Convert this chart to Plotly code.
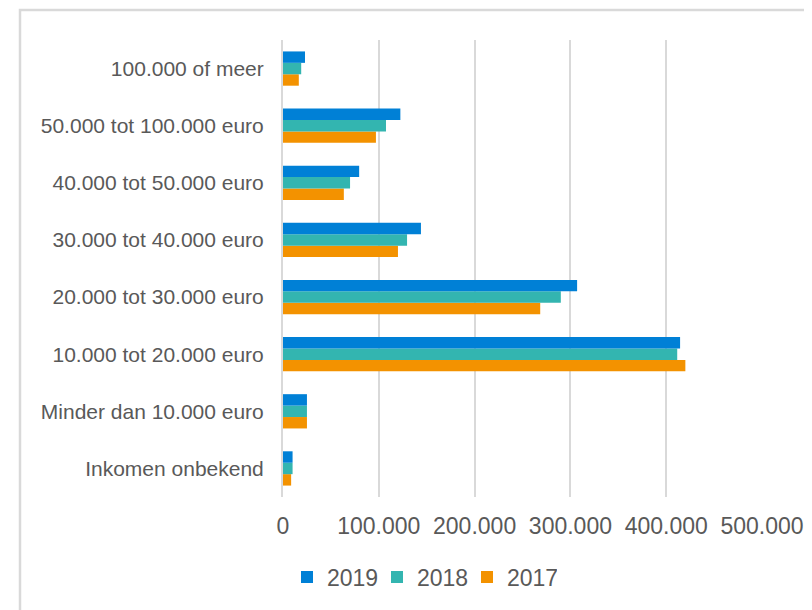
import plotly.graph_objects as go

categories = [
    "Inkomen onbekend",
    "Minder dan 10.000 euro",
    "10.000 tot 20.000 euro",
    "20.000 tot 30.000 euro",
    "30.000 tot 40.000 euro",
    "40.000 tot 50.000 euro",
    "50.000 tot 100.000 euro",
    "100.000 of meer",
]
values_2019 = [10000, 25000, 414500, 307000, 144000, 79500, 122500, 23000]
values_2018 = [10000, 25000, 411500, 290000, 129500, 70000, 107500, 19000]
values_2017 = [8500, 25000, 420000, 268500, 120000, 63500, 97000, 16500]
tick_values = [0, 100000, 200000, 300000, 400000, 500000]
tick_labels = ["0", "100.000", "200.000", "300.000", "400.000", "500.000"]

W, H = 812, 610
OFF = 8  # page body margin offset
FONT = "Liberation Sans, Arial, sans-serif"
GREY = "#595959"
GRID = "#d9d9d9"


def px(x):
    return (x - OFF) / W


def py(y):
    return 1 - (y - OFF) / H


fig = go.Figure()
series = [("2017", values_2017, "#F39200"), ("2018", values_2018, "#33B5B0"), ("2019", values_2019, "#0080D6")]
for name, vals, col in series:
    fig.add_trace(go.Bar(name=name, y=categories, x=vals, orientation="h",
                         marker=dict(color=col, line=dict(width=0))))

fig.update_layout(
    template="none",
    width=W, height=H,
    margin=dict(l=0, r=0, t=0, b=0, pad=0, autoexpand=False),
    paper_bgcolor="white", plot_bgcolor="rgba(0,0,0,0)",
    font=dict(family=FONT, color=GREY, size=21),
    barmode="group", bargap=0.4, bargroupgap=0,
    xaxis=dict(domain=[px(283), px(762)], range=[0, 500000], tickvals=tick_values,
               ticktext=tick_labels, showgrid=True, gridcolor=GRID, gridwidth=2,
               zeroline=False, showline=False, anchor="y", ticks="", automargin=False,
               ticklabelstandoff=13, tickfont=dict(size=23, color=GREY)),
    yaxis=dict(domain=[py(497), py(40)], showline=True, linecolor=GRID, linewidth=2,
               ticks="", ticklabelstandoff=13, showgrid=False, zeroline=False,
               automargin=False, tickfont=dict(size=21, color=GREY)),
    legend=dict(orientation="h", traceorder="reversed", x=px(287), xanchor="left",
                y=py(577), yanchor="middle", font=dict(size=23, color=GREY),
                entrywidth=45, entrywidthmode="pixels",
                bgcolor="rgba(0,0,0,0)"),
    shapes=[dict(type="rect", xref="paper", yref="paper", x0=px(20), x1=1.1,
                 y0=-0.1, y1=py(10), line=dict(color=GRID, width=2.5),
                 fillcolor="rgba(0,0,0,0)", layer="below")],
    showlegend=True,
)

fig.write_html("out.html")
